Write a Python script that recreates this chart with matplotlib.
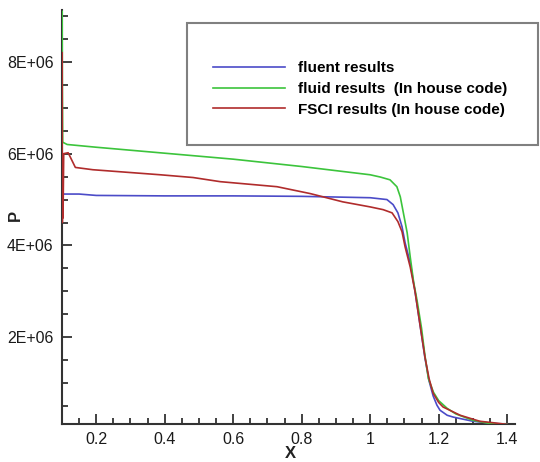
import matplotlib
matplotlib.use("Agg")
import matplotlib.pyplot as plt
from matplotlib.patches import Rectangle
from matplotlib.ticker import MultipleLocator, FuncFormatter

plt.rcParams['font.family'] = ['Liberation Sans', 'DejaVu Sans']

# pressure along X, values in units of 1E+06
fluent_x = [0.1005, 0.101, 0.103, 0.15, 0.2, 0.4, 0.6, 0.8, 1.0, 1.049, 1.067,
            1.081, 1.093, 1.102, 1.117, 1.131, 1.145, 1.16, 1.172, 1.184,
            1.195, 1.204, 1.225, 1.243, 1.3, 1.38, 1.4]
fluent_p = [5.9, 5.15, 5.12, 5.12, 5.09, 5.08, 5.08, 5.07, 5.04, 5.0, 4.89,
            4.71, 4.41, 4.06, 3.62, 3.0, 2.3, 1.55, 1.05, 0.72,
            0.52, 0.41, 0.3, 0.26, 0.17, 0.11, 0.1]

fluid_x = [0.1005, 0.101, 0.102, 0.115, 0.2, 0.4, 0.6, 0.8, 1.0, 1.03, 1.058,
           1.078, 1.088, 1.097, 1.108, 1.117, 1.127, 1.137, 1.15, 1.16, 1.17,
           1.185, 1.2, 1.225, 1.25, 1.3, 1.35, 1.4]
fluid_p = [9.1, 7.5, 6.25, 6.2, 6.14, 6.01, 5.88, 5.72, 5.54, 5.49, 5.43,
           5.28, 5.06, 4.71, 4.28, 3.75, 3.2, 2.8, 2.2, 1.6, 1.1,
           0.8, 0.62, 0.45, 0.33, 0.19, 0.12, 0.1]

fsci_x = [0.1005, 0.101, 0.102, 0.103, 0.105, 0.118, 0.139, 0.19, 0.387, 0.483,
          0.562, 0.728, 0.825, 0.862, 0.92, 1.0, 1.038, 1.064, 1.081, 1.093,
          1.102, 1.117, 1.131, 1.145, 1.16, 1.172, 1.184, 1.2, 1.213, 1.263,
          1.32, 1.38, 1.4]
fsci_p = [8.2, 4.5, 5.9, 4.6, 6.0, 6.02, 5.7, 5.65, 5.54, 5.48,
          5.39, 5.28, 5.13, 5.06, 4.95, 4.84, 4.78, 4.71, 4.52, 4.30,
          3.97, 3.53, 3.0, 2.3, 1.57, 1.1, 0.78, 0.58, 0.48, 0.30,
          0.17, 0.12, 0.1]

labels = ['fluent results', 'fluid results  (In house code)',
          'FSCI results (In house code)']
colors = ['#4b4bc8', '#3cc43c', '#b02c2c']

fig = plt.figure(figsize=(5.4, 4.62), dpi=100)
ax = fig.add_axes([62 / 540, 38 / 462, 453 / 540, 414 / 462])

ax.plot(fluent_x, [v * 1e6 for v in fluent_p], color=colors[0], lw=1.2, label=labels[0], zorder=3)
ax.plot(fluid_x, [v * 1e6 for v in fluid_p], color=colors[1], lw=1.2, label=labels[1], zorder=3)
ax.plot(fsci_x, [v * 1e6 for v in fsci_p], color=colors[2], lw=1.2, label=labels[2], zorder=3)

ax.set_xlim(0.1, 1.423)
ax.set_ylim(1.1e5, 9.13e6)

for s in ['top', 'right']:
    ax.spines[s].set_visible(False)
for s in ['left', 'bottom']:
    ax.spines[s].set_linewidth(1.5)
    ax.spines[s].set_color('#333333')

ax.xaxis.set_major_locator(MultipleLocator(0.2))
ax.xaxis.set_minor_locator(MultipleLocator(0.05))
ax.yaxis.set_major_locator(MultipleLocator(2e6))
ax.yaxis.set_minor_locator(MultipleLocator(5e5))
ax.xaxis.set_major_formatter(FuncFormatter(lambda v, p: f"{v:g}"))
ax.yaxis.set_major_formatter(FuncFormatter(lambda v, p: f"{int(round(v / 1e6))}E+06"))

ax.tick_params(which='both', direction='in', color='#333333', width=1.3,
               labelsize=11.5, labelcolor='#1a1a1a', pad=6)
ax.tick_params(which='major', length=7)
ax.tick_params(which='minor', length=4)

fig.text(15 / 540, 1 - 215 / 462, 'P', rotation=90, ha='center', va='center',
         fontsize=12, fontweight='bold', color='#222222')
fig.text(290 / 540, 1 - 453 / 462, 'X', ha='center', va='center',
         fontsize=12, fontweight='bold', color='#222222')

# legend box is larger than its content
fig.patches.append(Rectangle((187 / 540, 1 - 145 / 462), 351 / 540, 122 / 462,
                             transform=fig.transFigure, fill=False,
                             edgecolor='#808080', lw=1.5))
ax.legend(loc='upper left', bbox_to_anchor=(213 / 540, 1 - 61 / 462),
          bbox_transform=fig.transFigure, frameon=False, borderpad=0,
          borderaxespad=0, handlelength=4.7, handletextpad=0.87,
          labelspacing=0.45, prop={'weight': 'bold', 'size': 11})

fig.savefig('out.png', dpi=100)
